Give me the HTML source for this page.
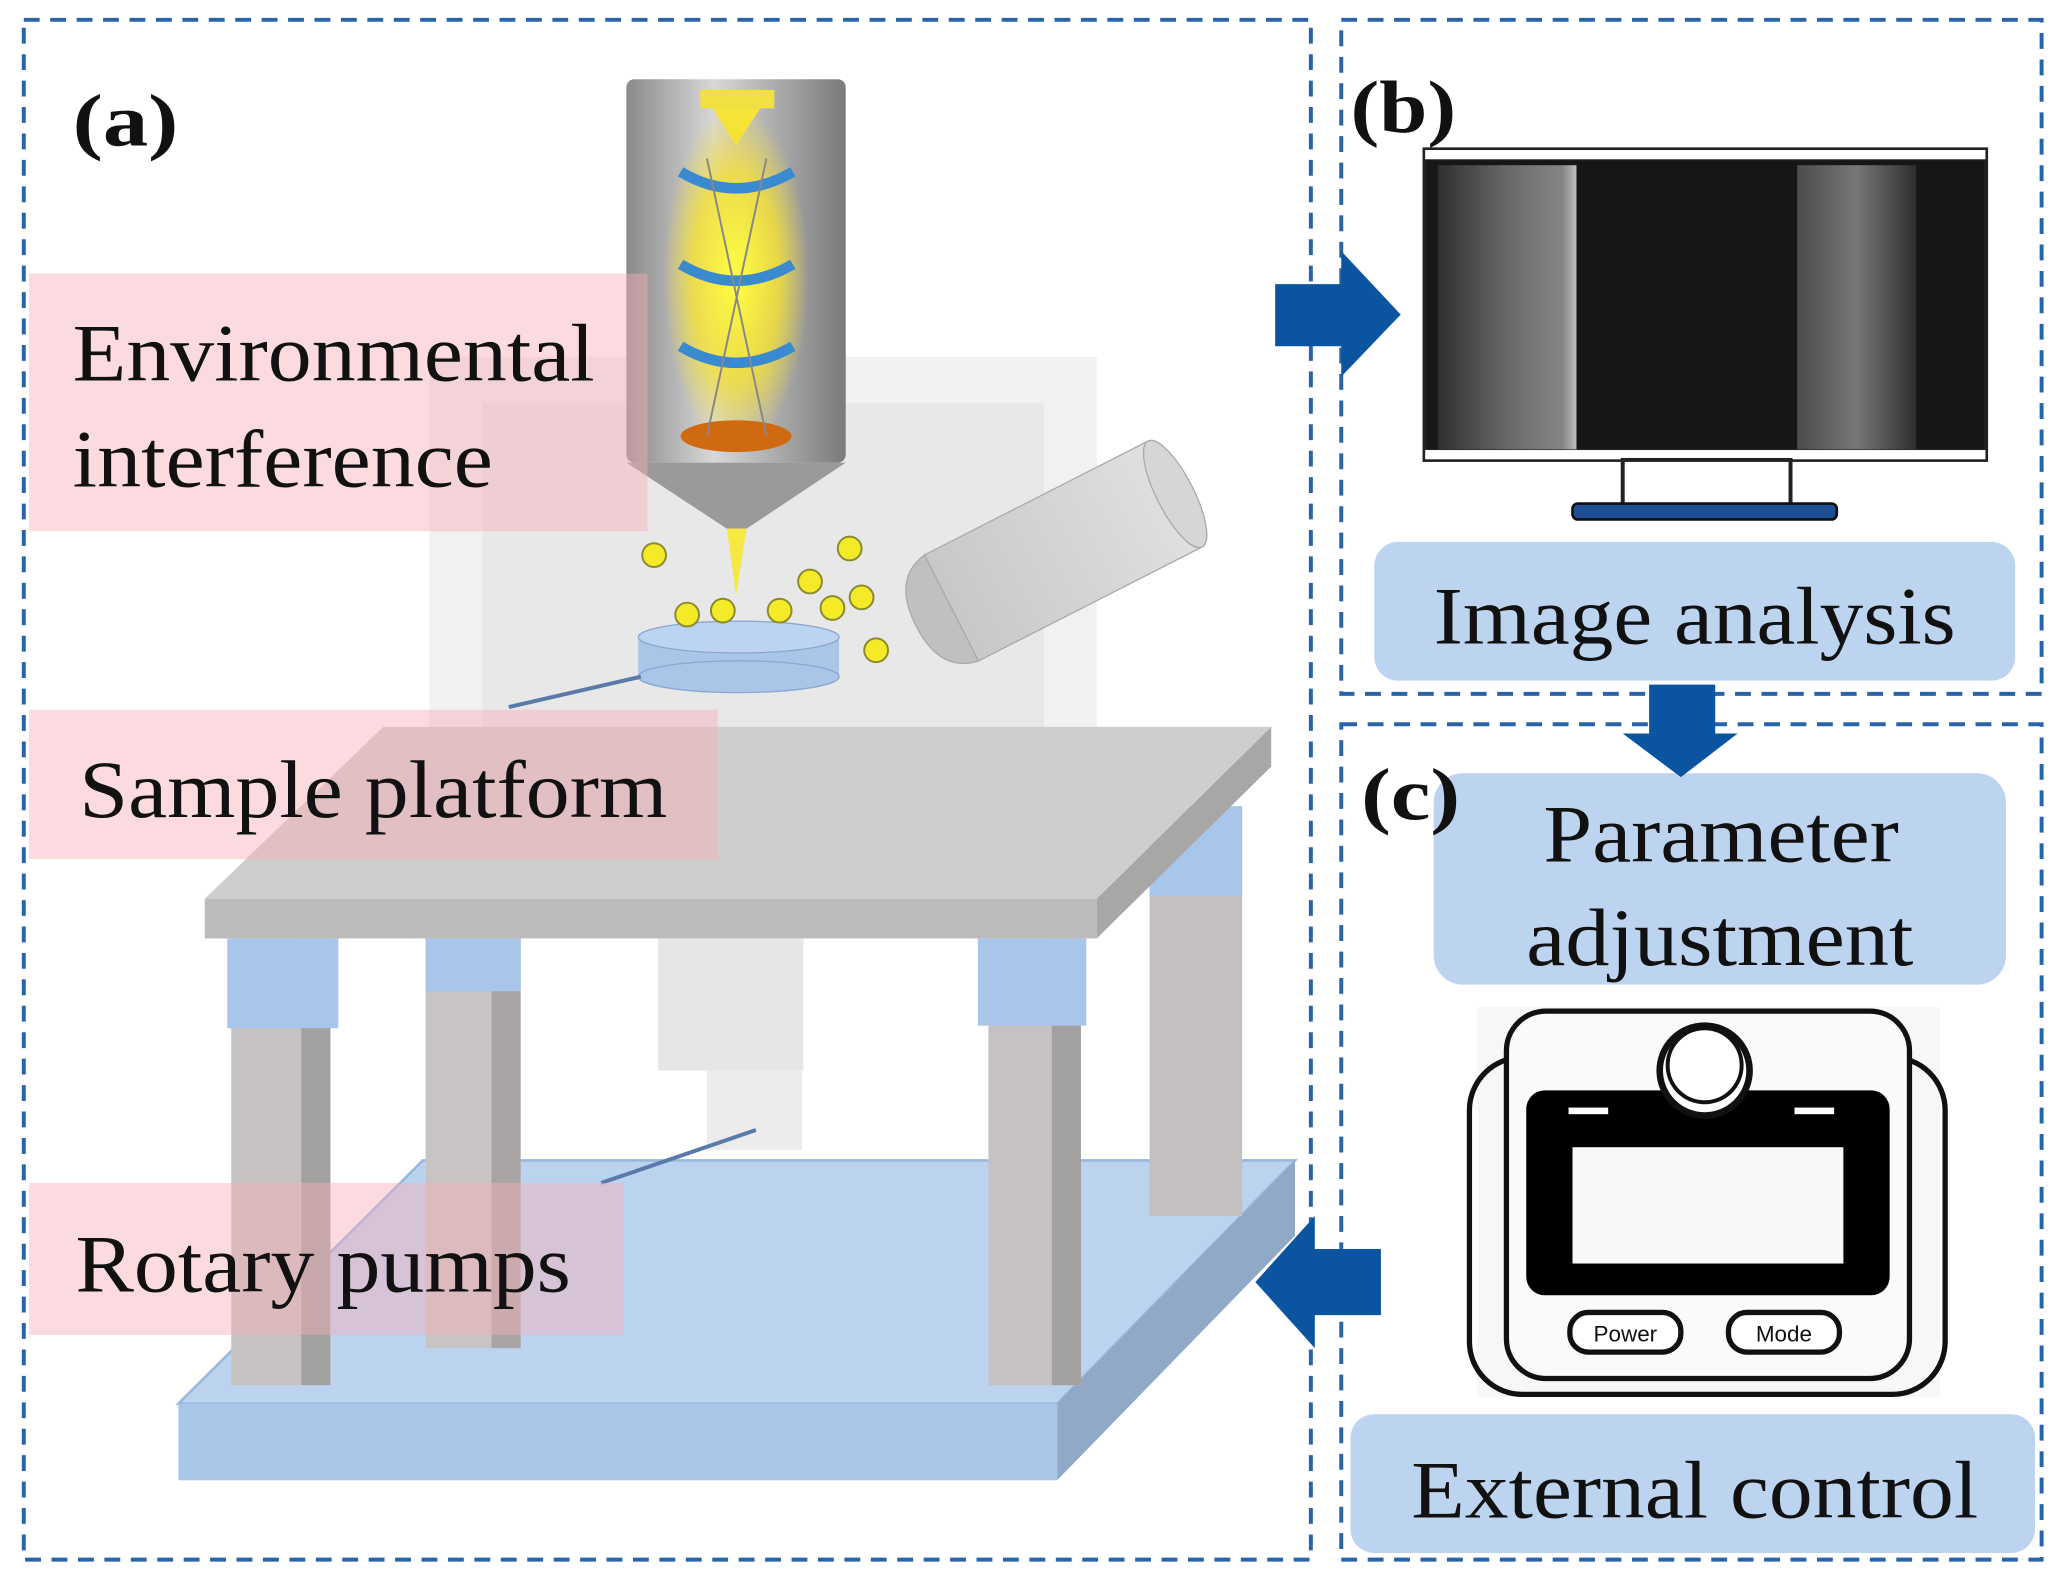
<!DOCTYPE html>
<html><head><meta charset="utf-8"><style>html,body{margin:0;padding:0;background:#fff}svg{display:block}</style></head>
<body>
<svg width="2072" height="1590" viewBox="0 0 1568 1203" preserveAspectRatio="none" xmlns="http://www.w3.org/2000/svg" font-family="Liberation Serif, serif">
<defs>
<linearGradient id="col" x1="0" x2="1"><stop offset="0" stop-color="#8a8a8a"/><stop offset="0.4" stop-color="#d8d8d8"/><stop offset="1" stop-color="#7a7a7a"/></linearGradient>
<radialGradient id="glow" cx="0.5" cy="0.5" r="0.5"><stop offset="0" stop-color="#ffff40"/><stop offset="0.6" stop-color="#f5e030" stop-opacity="0.8"/><stop offset="1" stop-color="#f5e030" stop-opacity="0"/></radialGradient>
<linearGradient id="det" x1="0" x2="1"><stop offset="0" stop-color="#c8c8c8"/><stop offset="1" stop-color="#e0e0e0"/></linearGradient>
<linearGradient id="wl" x1="0" x2="1"><stop offset="0" stop-color="#333"/><stop offset="0.5" stop-color="#777"/><stop offset="0.9" stop-color="#999"/><stop offset="1" stop-color="#ddd"/></linearGradient>
<linearGradient id="wr" x1="0" x2="1"><stop offset="0" stop-color="#555"/><stop offset="0.5" stop-color="#888"/><stop offset="1" stop-color="#333"/></linearGradient>
</defs>
<rect width="1568" height="1203" fill="#fff"/>
<g fill="none" stroke="#2a64a8" stroke-width="3" stroke-dasharray="12 8">
<rect x="18" y="15" width="974" height="1165"/>
<rect x="1015" y="15" width="530" height="510"/>
<rect x="1015" y="548" width="530" height="632"/>
</g>
<rect x="325" y="270" width="505" height="370" fill="#e8e8e8" opacity="0.6"/>
<rect x="365" y="305" width="425" height="290" fill="#e0e0e0" opacity="0.5"/>
<polygon points="320,878 980,878 800,1062 135,1062" fill="#bcd3ef" stroke="#9ab8dc" stroke-width="2"/>
<rect x="135" y="1062" width="665" height="58" fill="#a9c5e8"/>
<polygon points="800,1062 980,878 980,935 800,1120" fill="#8fa9c6"/>
<rect x="870" y="610" width="70" height="310" fill="#c4c0c0"/><rect x="870" y="610" width="70" height="68" fill="#a8c6ea"/>
<rect x="322" y="700" width="72" height="320" fill="#c8c4c4"/><rect x="372" y="700" width="22" height="320" fill="#a8a4a4"/><rect x="322" y="700" width="72" height="50" fill="#a8c6ea"/>
<rect x="498" y="710" width="110" height="100" fill="#e6e6e6"/><rect x="535" y="810" width="72" height="60" fill="#ececec"/>
<polygon points="290,550 962,550 830,680 155,680" fill="#cfcdcd"/>
<rect x="155" y="680" width="675" height="30" fill="#bdbaba"/>
<polygon points="830,680 962,550 962,580 830,710" fill="#a9a6a6"/>
<rect x="175" y="710" width="75" height="338" fill="#c6c2c2"/><rect x="228" y="710" width="22" height="338" fill="#a3a0a0"/><rect x="172" y="710" width="84" height="68" fill="#a8c6ea"/>
<rect x="748" y="710" width="70" height="338" fill="#c6c2c2"/><rect x="796" y="710" width="22" height="338" fill="#a3a0a0"/><rect x="740" y="710" width="82" height="66" fill="#a8c6ea"/>
<rect x="474" y="60" width="166" height="290" rx="6" fill="url(#col)"/>
<polygon points="474,350 640,350 565,400 550,400" fill="#9a9a9a"/>
<polygon points="535,75 580,75 557,110" fill="#f7e43a"/>
<rect x="530" y="68" width="56" height="14" fill="#f0e040"/>
<ellipse cx="557" cy="210" rx="55" ry="130" fill="url(#glow)"/>
<g stroke="#3a8ad0" stroke-width="8" fill="none">
<path d="M515,130 Q557,155 600,130"/><path d="M515,200 Q557,225 600,200"/><path d="M515,262 Q557,287 600,262"/>
</g>
<ellipse cx="557" cy="330" rx="42" ry="12" fill="#d06a10"/>
<path d="M535,120 L580,330 M580,120 L535,330" stroke="#888" stroke-width="1.5"/>
<polygon points="550,400 565,400 557,450" fill="#f5e840"/>
<rect x="483" y="482" width="152" height="30" fill="#a9c5e8"/>
<ellipse cx="559" cy="512" rx="76" ry="12" fill="#a9c5e8" stroke="#8aa8d0"/>
<ellipse cx="559" cy="482" rx="76" ry="12" fill="#bcd4f2" stroke="#8aa8d0"/>
<line x1="385" y1="535" x2="485" y2="512" stroke="#5a7aa8" stroke-width="3"/>
<line x1="455" y1="895" x2="572" y2="855" stroke="#5a7aa8" stroke-width="3"/>
<g fill="#f5ea28" stroke="#8a8a30" stroke-width="1.5">
<circle cx="495" cy="420" r="9"/><circle cx="643" cy="415" r="9"/><circle cx="613" cy="440" r="9"/><circle cx="652" cy="452" r="9"/><circle cx="630" cy="460" r="9"/><circle cx="520" cy="465" r="9"/><circle cx="547" cy="462" r="9"/><circle cx="590" cy="462" r="9"/><circle cx="663" cy="492" r="9"/>
</g>
<g transform="translate(720,460) rotate(-27)">
<rect x="0" y="-45" width="190" height="90" fill="url(#det)" stroke="#aaa"/>
<ellipse cx="190" cy="0" rx="14" ry="45" fill="#d6d6d6" stroke="#aaa"/>
<path d="M0,-45 Q-30,-40 -30,0 Q-30,40 0,45 Z" fill="#c0c0c0" stroke="#aaa"/>
</g>
<g fill="#f6b0b8" opacity="0.45">
<rect x="22" y="207" width="468" height="195"/>
<rect x="22" y="537" width="521" height="113"/>
<rect x="22" y="895" width="450" height="115"/>
</g>
<g font-size="62" fill="#111">
<text x="55" y="288" textLength="395" lengthAdjust="spacingAndGlyphs">Environmental</text>
<text x="55" y="368" textLength="318" lengthAdjust="spacingAndGlyphs">interference</text>
<text x="60" y="618" textLength="445" lengthAdjust="spacingAndGlyphs">Sample platform</text>
<text x="57" y="977" textLength="375" lengthAdjust="spacingAndGlyphs">Rotary pumps</text>
</g>
<rect x="1078" y="113" width="425" height="235" fill="#161616" stroke="#222" stroke-width="3"/>
<rect x="1078" y="113" width="425" height="8" fill="#fff" stroke="#222"/>
<rect x="1078" y="340" width="425" height="8" fill="#fff" stroke="#222"/>
<rect x="1088" y="125" width="105" height="215" fill="url(#wl)" opacity="0.85"/>
<rect x="1360" y="125" width="90" height="215" fill="url(#wr)" opacity="0.85"/>
<rect x="1228" y="348" width="127" height="34" fill="#fff" stroke="#222" stroke-width="3"/>
<rect x="1190" y="381" width="200" height="12" rx="4" fill="#1e4e94" stroke="#111" stroke-width="2"/>
<g fill="#bcd4f0">
<rect x="1040" y="410" width="485" height="105" rx="18"/>
<rect x="1085" y="585" width="433" height="160" rx="22"/>
<rect x="1022" y="1070" width="518" height="105" rx="18"/>
</g>
<g font-size="62" fill="#111">
<text x="1085" y="487" textLength="395" lengthAdjust="spacingAndGlyphs">Image analysis</text>
<text x="1168" y="652" textLength="269" lengthAdjust="spacingAndGlyphs">Parameter</text>
<text x="1155" y="730" textLength="293" lengthAdjust="spacingAndGlyphs">adjustment</text>
<text x="1068" y="1148" textLength="429" lengthAdjust="spacingAndGlyphs">External control</text>
</g>
<g font-size="56" font-weight="bold" fill="#111">
<text x="55" y="110" textLength="80" lengthAdjust="spacingAndGlyphs">(a)</text><text x="1022" y="100" textLength="80" lengthAdjust="spacingAndGlyphs">(b)</text><text x="1030" y="620" textLength="75" lengthAdjust="spacingAndGlyphs">(c)</text>
</g>
<g fill="#0b54a0">
<polygon points="965,215 1015,215 1015,190 1060,238 1015,285 1015,262 965,262"/>
<polygon points="1248,518 1298,518 1298,555 1315,555 1272,588 1228,555 1248,555"/>
<polygon points="1045,945 995,945 995,920 950,970 995,1020 995,995 1045,995"/>
</g>
<rect x="1118" y="762" width="350" height="295" fill="#f7f7f7"/>
<rect x="1112" y="800" width="360" height="255" rx="40" fill="none" stroke="#111" stroke-width="4"/>
<rect x="1140" y="765" width="305" height="278" rx="30" fill="#fafafa" stroke="#111" stroke-width="4"/>
<rect x="1155" y="825" width="275" height="155" rx="14" fill="#000"/>
<rect x="1190" y="868" width="205" height="88" fill="#f8f8f8"/>
<rect x="1187" y="838" width="30" height="5" fill="#fff"/><rect x="1358" y="838" width="30" height="5" fill="#fff"/>
<circle cx="1290" cy="810" r="34" fill="#fff" stroke="#111" stroke-width="5"/>
<circle cx="1290" cy="806" r="28" fill="#fff" stroke="#111" stroke-width="3"/>
<rect x="1188" y="993" width="84" height="30" rx="14" fill="#fff" stroke="#111" stroke-width="4"/>
<rect x="1308" y="993" width="84" height="30" rx="14" fill="#fff" stroke="#111" stroke-width="4"/>
<g font-family="Liberation Sans, sans-serif" font-size="17" text-anchor="middle" fill="#111">
<text x="1230" y="1015">Power</text><text x="1350" y="1015">Mode</text></g>
</svg>
</body></html>
